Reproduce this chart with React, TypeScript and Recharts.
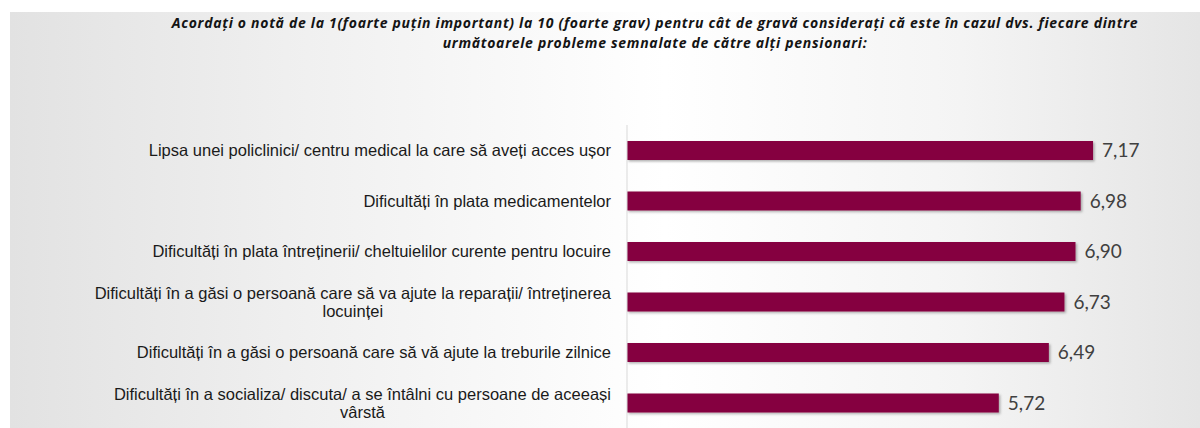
import React from 'react';
import { BarChart, Bar, XAxis, YAxis, LabelList } from 'recharts';

// Problems reported by other pensioners (line breaks as in the original slide)
const categories: string[] = [
  'Lipsa unei policlinici/ centru medical la care să aveți acces ușor',
  'Dificultăți în plata medicamentelor',
  'Dificultăți în plata întreținerii/ cheltuielilor curente pentru locuire',
  'Dificultăți în a găsi o persoană care să va ajute la reparații/ întreținerea\nlocuinței',
  'Dificultăți în a găsi o persoană care să vă ajute la treburile zilnice',
  'Dificultăți în a socializa/ discuta/ a se întâlni cu persoane de aceeași\nvârstă',
];

const scores: number[] = [7.17, 6.98, 6.9, 6.73, 6.49, 5.72];

const titleLines: string[] = [
  'Acordați o notă de la 1(foarte puțin important) la 10 (foarte grav) pentru cât de gravă considerați că este în cazul dvs. fiecare dintre',
  'următoarele probleme semnalate de către alți pensionari:',
];

const data = categories.map((name, i) => ({ name, score: scores[i] }));

const LABEL_FONT = '16.5px "Liberation Sans", Arial, sans-serif';

let ctx: CanvasRenderingContext2D | null = null;
const measure = (s: string) => {
  if (!ctx) ctx = document.createElement('canvas').getContext('2d');
  if (!ctx) return s.length * 8;
  ctx.font = LABEL_FONT;
  return ctx.measureText(s).width;
};

// right-aligned block, extra lines centred under the first one
const CategoryTick = ({ x, y, payload }: any) => {
  const lines: string[] = String(payload.value).split('\n');
  const lh = 18;
  const startY = y - ((lines.length - 1) * lh) / 2;
  const right = x;
  const w = measure(lines[0]);
  const cx = right - w / 2;
  return (
    <text
      fill="#1a1a1a"
      style={{ font: LABEL_FONT }}
      dominantBaseline="central"
    >
      {lines.map((ln, i) => (
        <tspan
          key={i}
          x={i === 0 ? right : cx}
          y={startY + i * lh}
          textAnchor={i === 0 ? 'end' : 'middle'}
        >
          {ln}
        </tspan>
      ))}
    </text>
  );
};

export default function App() {
  return (
    <div
      style={{
        position: 'absolute',
        left: 0,
        top: 0,
        width: 1200,
        height: 428,
        overflow: 'hidden',
        background: '#ffffff',
      }}
    >
      <div
        style={{
          position: 'absolute',
          left: 10,
          top: 12,
          right: 0,
          bottom: 0,
          background:
            'linear-gradient(to right, #e2e2e2 0%, #f0f0f0 25%, #ffffff 55%, #f4f4f4 80%, #e5e5e5 100%)',
        }}
      />
      <div
        style={{
          position: 'absolute',
          left: 110,
          top: 13,
          width: 1090,
          textAlign: 'center',
          fontFamily: '"Open Sans", Lato, sans-serif',
          fontWeight: 700,
          fontStyle: 'italic',
          fontSize: 14,
          letterSpacing: 0.7,
          lineHeight: '20px',
          color: '#141414',
        }}
      >
        {titleLines.map((t, i) => (
          <div key={i}>{t}</div>
        ))}
      </div>
      <div style={{ position: 'absolute', left: 0, top: 0 }}>
        <BarChart
          width={1200}
          height={428}
          data={data}
          layout="vertical"
          margin={{ top: 125, right: 27, left: 0, bottom: 0 }}
          barCategoryGap={0}
        >
          <defs>
            <filter id="barShadow" x="-5%" y="-30%" width="110%" height="180%">
              <feDropShadow dx="1.5" dy="1.5" stdDeviation="1.2" floodColor="#000" floodOpacity="0.3" />
            </filter>
          </defs>
          <XAxis type="number" domain={[0, 8.4]} hide />
          <YAxis
            dataKey="name"
            type="category"
            width={627}
            axisLine={{ stroke: '#d9d9d9', strokeWidth: 1 }}
            tickLine={false}
            tickMargin={10}
            tick={<CategoryTick />}
            interval={0}
          />
          <Bar
            dataKey="score"
            fill="#85003f"
            barSize={19}
            isAnimationActive={false}
            style={{ filter: 'url(#barShadow)' }}
          >
            <LabelList
              dataKey="score"
              position="right"
              offset={9}
              formatter={(v: any) => Number(v).toFixed(2).replace('.', ',')}
              style={{
                fontFamily: 'Lato, "Open Sans", sans-serif',
                fontSize: 19,
                fill: '#404040',
              }}
            />
          </Bar>
        </BarChart>
      </div>
    </div>
  );
}
